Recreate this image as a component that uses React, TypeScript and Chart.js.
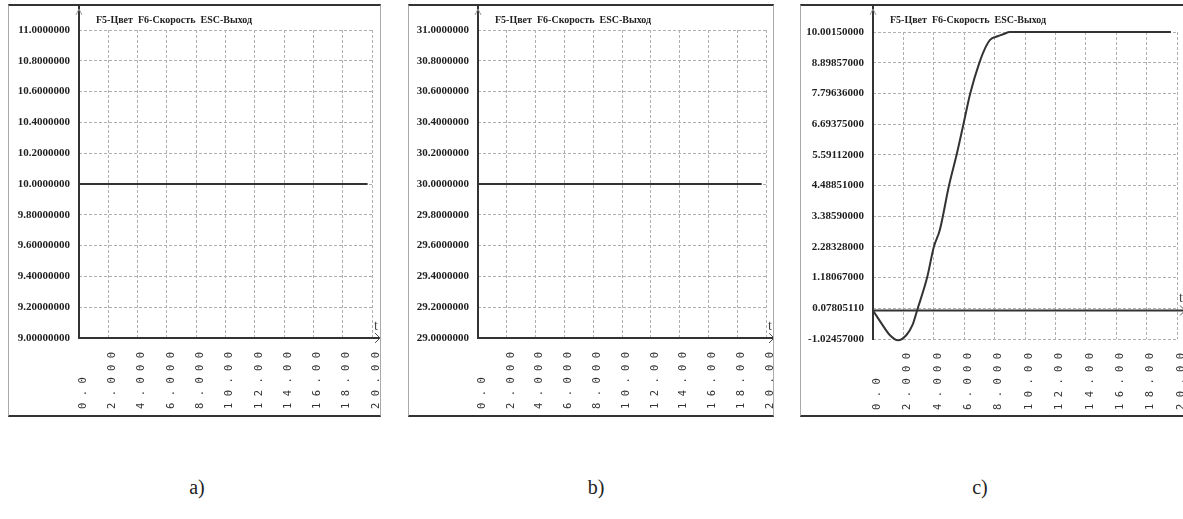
import React, { useEffect, useRef } from "react";
import { Chart, registerables } from "chart.js";

Chart.register(...registerables);

// ---------- data ----------
const xTickValues = [0, 2, 4, 6, 8, 10, 12, 14, 16, 18, 20];
const xTickLabels = ["0.0", "2.000", "4.000", "6.000", "8.000", "10.00", "12.00", "14.00", "16.00", "18.00", "20.00"];

const headerText = "F5-Цвет  F6-Скорость  ESC-Выход";
const captions = ["a)", "b)", "c)"];

// panel a
const yTickValuesA = [11.0, 10.8, 10.6, 10.4, 10.2, 10.0, 9.8, 9.6, 9.4, 9.2, 9.0];
const yTickLabelsA = ["11.0000000", "10.8000000", "10.6000000", "10.4000000", "10.2000000", "10.0000000", "9.80000000", "9.60000000", "9.40000000", "9.20000000", "9.00000000"];
const timeA = [0, 19.7];
const valuesA = [10, 10];

// panel b
const yTickValuesB = [31.0, 30.8, 30.6, 30.4, 30.2, 30.0, 29.8, 29.6, 29.4, 29.2, 29.0];
const yTickLabelsB = ["31.0000000", "30.8000000", "30.6000000", "30.4000000", "30.2000000", "30.0000000", "29.8000000", "29.6000000", "29.4000000", "29.2000000", "29.0000000"];
const timeB = [0, 19.7];
const valuesB = [30, 30];

// panel c
const yTickValuesC = [10.0015, 8.89857, 7.79636, 6.69375, 5.59112, 4.48851, 3.3859, 2.28328, 1.18067, 0.0780511, -1.02457];
const yTickLabelsC = ["10.00150000", "8.89857000", "7.79636000", "6.69375000", "5.59112000", "4.48851000", "3.38590000", "2.28328000", "1.18067000", "0.07805110", "-1.02457000"];
const timeC = [0, 0.6, 1.1, 1.65, 2.2, 2.6, 2.9, 3.56, 4.0, 4.4, 5.0, 5.5, 5.95, 6.4, 7.0, 7.4, 7.7, 8.2, 8.6, 9.0, 19.6];
const valuesC = [0, -0.5, -0.88, -1.07, -0.88, -0.52, 0, 1.18, 2.28, 2.9, 4.49, 5.59, 6.69, 7.8, 8.9, 9.45, 9.72, 9.85, 9.93, 10.0, 10.0];

// ---------- helpers ----------
const spaced = (s: string) => s.split("").join(" ").padEnd(9, " ");

type PanelProps = {
  frameLeft: number;
  frameTop: number;
  frameWidth: number;
  frameHeight: number;
  yAxisWidth: number;
  padTop: number;
  padRight: number;
  xAxisHeight: number;
  yValues: number[];
  yLabels: string[];
  times: number[];
  values: number[];
  smooth: boolean;
};

function Panel(p: PanelProps) {
  const ref = useRef<HTMLCanvasElement | null>(null);
  const cw = p.frameWidth - 2;
  const ch = p.frameHeight - 4;

  useEffect(() => {
    if (!ref.current) return;
    const ascValues = [...p.yValues].sort((a, b) => a - b);
    const ascLabels = p.yValues
      .map((v, i) => ({ v, l: p.yLabels[i] }))
      .sort((a, b) => a.v - b.v)
      .map((o) => o.l);
    const yMin = ascValues[0];
    const yMax = ascValues[ascValues.length - 1];

    const decor = {
      id: "decor",
      beforeDatasetsDraw(chart: any) {
        const ctx = chart.ctx;
        const area = chart.chartArea;
        const ys = chart.scales.y;
        const axisVal = yMin <= 0 && yMax >= 0 ? 0 : yMin;
        const yAxisPix = ys.getPixelForValue(axisVal);
        ctx.save();
        ctx.strokeStyle = "#333";
        ctx.lineWidth = 2;
        ctx.beginPath();
        ctx.moveTo(area.left, 0);
        ctx.lineTo(area.left, area.bottom + 1);
        ctx.stroke();
        ctx.beginPath();
        ctx.moveTo(area.left, yAxisPix);
        ctx.lineTo(area.right + 7, yAxisPix);
        ctx.stroke();
        ctx.restore();
      },
      afterDraw(chart: any) {
        const ctx = chart.ctx;
        const area = chart.chartArea;
        const ys = chart.scales.y;
        const axisVal = yMin <= 0 && yMax >= 0 ? 0 : yMin;
        const yAxisPix = ys.getPixelForValue(axisVal);
        ctx.save();
        ctx.strokeStyle = "#555";
        ctx.lineWidth = 1;
        ctx.beginPath();
        ctx.moveTo(area.right + 3, yAxisPix - 5);
        ctx.lineTo(area.right + 8, yAxisPix);
        ctx.lineTo(area.right + 3, yAxisPix + 5);
        ctx.stroke();
        ctx.strokeStyle = "#999";
        ctx.beginPath();
        ctx.moveTo(area.left - 3, 9);
        ctx.lineTo(area.left, 3);
        ctx.lineTo(area.left + 3, 9);
        ctx.stroke();
        ctx.fillStyle = "#444";
        ctx.font = '14px "Liberation Serif"';
        ctx.textAlign = "left";
        ctx.textBaseline = "alphabetic";
        ctx.fillText("t", area.right + 2, yAxisPix - 8);
        ctx.fillStyle = "#222";
        ctx.font = 'bold 10px "Liberation Serif"';
        ctx.textBaseline = "middle";
        ctx.fillText(headerText, area.left + 17, 14);
        ctx.restore();
      },
    };

    const chart = new Chart(ref.current, {
      type: "line",
      data: {
        datasets: [
          {
            data: p.times.map((t, i) => ({ x: t, y: p.values[i] })),
            borderColor: "#333",
            borderWidth: 2,
            pointRadius: 0,
            fill: false,
            cubicInterpolationMode: p.smooth ? "monotone" : "default",
            clip: false as any,
          },
        ],
      },
      options: {
        animation: false,
        responsive: false,
        layout: { padding: { left: 0, top: p.padTop, right: p.padRight, bottom: 0 } },
        plugins: { legend: { display: false }, tooltip: { enabled: false }, title: { display: false } },
        scales: {
          x: {
            type: "linear",
            min: 0,
            max: 20,
            afterBuildTicks: (scale: any) => {
              scale.ticks = xTickValues.map((v) => ({ value: v }));
            },
            afterFit: (scale: any) => {
              scale.height = p.xAxisHeight;
              scale.paddingLeft = 0;
              scale.paddingRight = 0;
            },
            grid: { color: "#b0b0b0", lineWidth: 1, drawTicks: false },
            border: { display: false, dash: [3, 2] },
            ticks: {
              autoSkip: false,
              minRotation: 90,
              maxRotation: 90,
              padding: 14,
              labelOffset: 4,
              color: "#333",
              font: { family: '"DejaVu Sans Mono"', size: 10.5 },
              callback: (_v: any, i: number) => spaced(xTickLabels[i]),
            },
          },
          y: {
            type: "linear",
            min: yMin,
            max: yMax,
            afterBuildTicks: (scale: any) => {
              scale.ticks = ascValues.map((v) => ({ value: v }));
            },
            afterFit: (scale: any) => {
              scale.width = p.yAxisWidth;
              scale.paddingTop = 0;
              scale.paddingBottom = 0;
            },
            grid: { color: "#b0b0b0", lineWidth: 1, drawTicks: false },
            border: { display: false, dash: [3, 2] },
            ticks: {
              autoSkip: false,
              padding: 9,
              color: "#222",
              font: { family: '"Liberation Serif"', size: 11, weight: "bold" },
              callback: (_v: any, i: number) => ascLabels[i],
            },
          },
        },
      },
      plugins: [decor],
    } as any);
    return () => chart.destroy();
  }, []);

  return (
    <div
      style={{
        position: "absolute",
        left: p.frameLeft,
        top: p.frameTop,
        width: cw,
        height: ch,
        borderTop: "2px solid #333",
        borderBottom: "2px solid #333",
        borderLeft: "1px solid #aaa",
        borderRight: "1px solid #aaa",
        background: "#fff",
      }}
    >
      <canvas ref={ref} width={cw} height={ch} style={{ display: "block" }} />
    </div>
  );
}

export default function App() {
  const captionX = [197, 596, 980];
  return (
    <div
      style={{
        position: "absolute",
        left: 0,
        top: 0,
        width: 1183,
        height: 519,
        overflow: "hidden",
        background: "#fff",
      }}
    >
      <Panel frameLeft={8} frameTop={4} frameWidth={373} frameHeight={413} yAxisWidth={70} padTop={24} padRight={8} xAxisHeight={77}
        yValues={yTickValuesA} yLabels={yTickLabelsA} times={timeA} values={valuesA} smooth={false} />
      <Panel frameLeft={408} frameTop={4} frameWidth={366} frameHeight={413} yAxisWidth={69} padTop={24} padRight={7} xAxisHeight={77}
        yValues={yTickValuesB} yLabels={yTickLabelsB} times={timeB} values={valuesB} smooth={false} />
      <Panel frameLeft={800} frameTop={4} frameWidth={386} frameHeight={413} yAxisWidth={72} padTop={26} padRight={8} xAxisHeight={76}
        yValues={yTickValuesC} yLabels={yTickLabelsC} times={timeC} values={valuesC} smooth={true} />
      {captions.map((c, i) => (
        <div
          key={c}
          style={{
            position: "absolute",
            left: captionX[i] - 20,
            width: 40,
            top: 476,
            textAlign: "center",
            fontFamily: '"Liberation Serif", serif',
            fontSize: 20,
            color: "#222",
          }}
        >
          {c}
        </div>
      ))}
    </div>
  );
}
